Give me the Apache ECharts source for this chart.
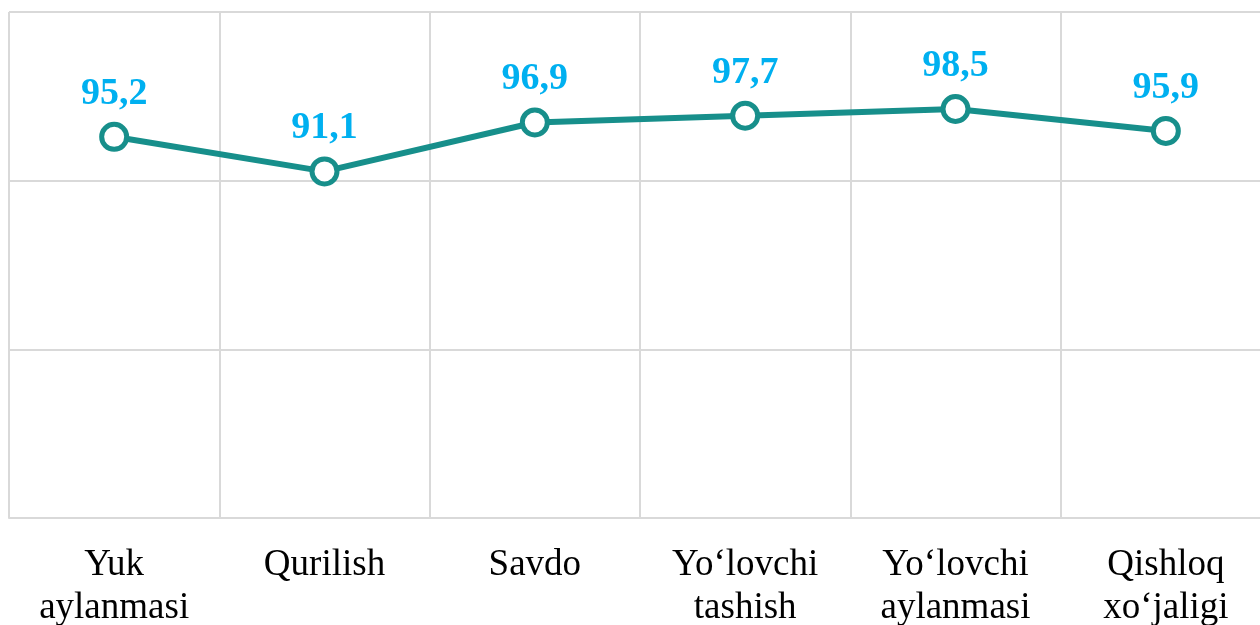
<!DOCTYPE html>
<html>
<head>
<meta charset="utf-8">
<script src="https://cdn.jsdelivr.net/npm/echarts@6/dist/echarts.min.js"></script>
<style>
	html, body { margin: 0; padding: 0; background: #fff; overflow: hidden; }
	#chart { width: 1271px; height: 625px; }
</style>
</head>
<body>
<div id="chart"></div>
<script>
const categories = ['Yuk\naylanmasi', 'Qurilish', 'Savdo', 'Yo‘lovchi\ntashish', 'Yo‘lovchi\naylanmasi', 'Qishloq\nxo‘jaligi']
const values = [95.2, 91.1, 96.9, 97.7, 98.5, 95.9]

const myChart = echarts.init(document.getElementById('chart'), null, { renderer: 'canvas' })

const option = {
	animation: false,
	grid: {
		top: 12,
		left: 9,
		right: 0,
		bottom: 107,
		containLabel: false,
		outerBoundsMode: 'none'
	},
	xAxis: {
		type: 'category',
		data: categories,
		boundaryGap: true,
		axisTick: { show: false },
		axisLine: {
			show: true,
			lineStyle: { color: '#d9d9d9', width: 2 }
		},
		splitLine: {
			show: true,
			lineStyle: { color: '#d9d9d9', width: 2 }
		},
		axisLabel: {
			color: '#000',
			fontFamily: 'Liberation Serif',
			fontSize: 37,
			lineHeight: 43,
			margin: 26,
			interval: 0
		}
	},
	yAxis: {
		type: 'value',
		min: 50,
		max: 110,
		interval: 20,
		axisLabel: { show: false },
		axisLine: { show: false },
		axisTick: { show: false },
		splitLine: {
			lineStyle: { color: '#d9d9d9', width: 2 }
		}
	},
	series: [
		{
			type: 'line',
			data: values,
			symbol: 'circle',
			symbolSize: 25,
			lineStyle: { color: '#178f8b', width: 6 },
			itemStyle: {
				color: '#fff',
				borderColor: '#178f8b',
				borderWidth: 5
			},
			label: {
				show: true,
				position: 'top',
				distance: 9,
				color: '#00b0f0',
				fontFamily: 'Liberation Serif',
				fontWeight: 'bold',
				fontSize: 38,
				formatter: (p) => String(p.value).replace('.', ',')
			}
		}
	]
}

myChart.setOption(option)
</script>
</body>
</html>
